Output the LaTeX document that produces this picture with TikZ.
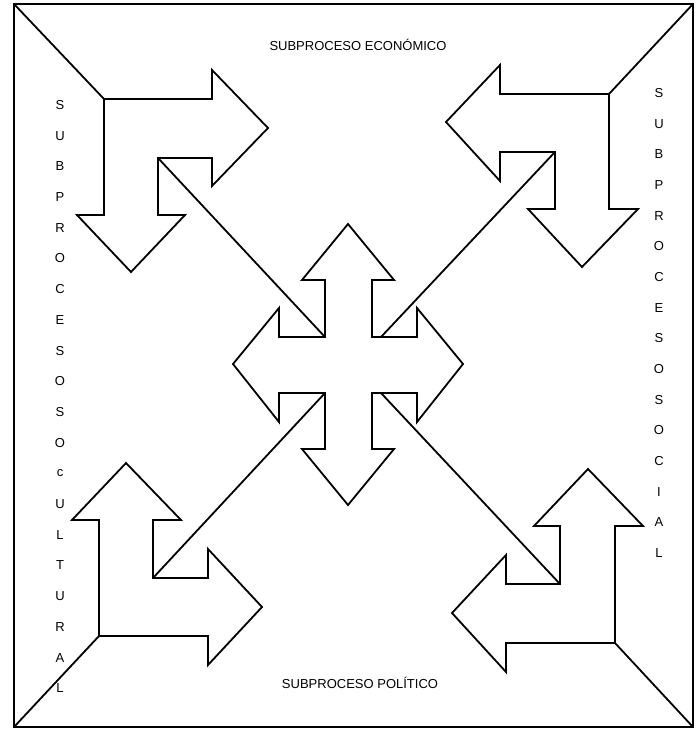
\documentclass[tikz,border=0pt]{standalone}
\usepackage{fontspec}
\setmainfont{Liberation Sans}
\begin{document}
\begin{tikzpicture}[x=1pt,y=-1pt,
  shp/.style={draw=black,line width=1.8pt,line join=miter},
  lbl/.style={inner sep=0pt,font=\fontsize{13}{15}\selectfont}]
\useasboundingbox (0,0) rectangle (696,730);
% frame
\coordinate (c1) at (14,4);
\coordinate (c2) at (693,4);
\coordinate (c3) at (693,727);
\coordinate (c4) at (14,727);
\draw[shp] (c1) rectangle (c3);
% top-left shape
\coordinate (tl) at (104,99);
\coordinate (tli) at (158,158);
\draw[shp] (tl) -- (212,99) -- (212,70) -- (268,128) -- (212,186) -- (212,158) -- (tli) -- (158,215) -- (185,215) -- (131,272) -- (77,215) -- (104,215) -- cycle;
% top-right shape
\coordinate (tr) at (609,94);
\coordinate (tri) at (555,152);
\draw[shp] (tr) -- (500,94) -- (500,65) -- (446,122) -- (500,181) -- (500,152) -- (tri) -- (555,209) -- (528,209) -- (582,267) -- (638,209) -- (609,209) -- cycle;
% bottom-left shape
\coordinate (bl) at (99,636);
\coordinate (bli) at (153,578);
\draw[shp] (bl) -- (99,520) -- (72,520) -- (126,463) -- (181,520) -- (153,520) -- (bli) -- (208,578) -- (208,549) -- (262,607) -- (208,665) -- (208,636) -- cycle;
% bottom-right shape
\coordinate (br) at (615,643);
\coordinate (bri) at (560,584);
\draw[shp] (br) -- (615,526) -- (643,526) -- (588,469) -- (534,526) -- (560,526) -- (bri) -- (506,584) -- (506,555) -- (452,613) -- (506,672) -- (506,643) -- cycle;
% central cross
\coordinate (xtl) at (325,337);
\coordinate (xtr) at (381,337);
\coordinate (xbl) at (325,393);
\coordinate (xbr) at (381,393);
\draw[shp] (325,337) -- (325,280) -- (302,280) -- (348,224) -- (394,280) -- (372,280) -- (372,337) -- (417,337) -- (417,308) -- (463,364) -- (417,422) -- (417,393) -- (372,393) -- (372,449) -- (394,449) -- (348,505) -- (302,449) -- (325,449) -- (325,393) -- (279,393) -- (279,422) -- (233,364) -- (279,308) -- (279,337) -- cycle;
% diagonals
\draw[shp] (c1) -- (tl);
\draw[shp] (c2) -- (tr);
\draw[shp] (c3) -- (br);
\draw[shp] (c4) -- (bl);
\draw[shp] (tli) -- (xtl);
\draw[shp] (tri) -- (xtr);
\draw[shp] (bli) -- (xbl);
\draw[shp] (bri) -- (xbr);
% texts
\node[lbl] (eco) at (358,45) {SUBPROCESO ECONÓMICO};
\node[lbl] (pol) at (360,683) {SUBPROCESO POLÍTICO};
\foreach \ch [count=\i from 0] in {S,U,B,P,R,O,C,E,S,O,S,O,c,U,L,T,U,R,A,L}
  \node[lbl] (cul\i) at (60,105+30.7*\i) {\ch};
\foreach \ch [count=\i from 0] in {S,U,B,P,R,O,C,E,S,O,S,O,C,I,A,L}
  \node[lbl] (soc\i) at (659,93+30.67*\i) {\ch};
\end{tikzpicture}
\end{document}
